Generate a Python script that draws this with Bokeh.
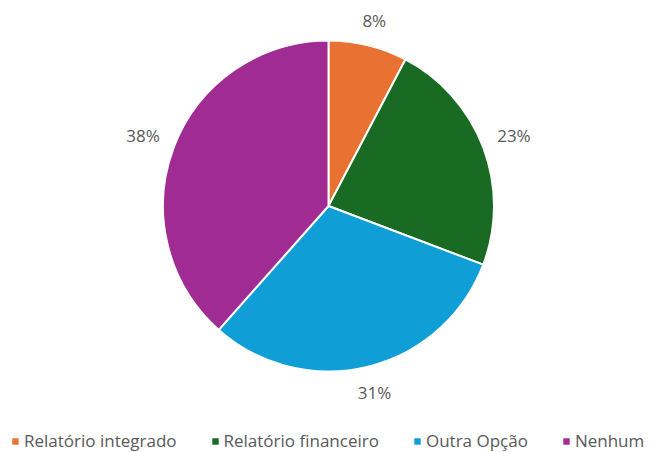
import math
from bokeh.plotting import figure
from bokeh.models import ColumnDataSource, Range1d, Legend, LegendItem
from bokeh.core.properties import value
from bokeh.embed import file_html
from bokeh.resources import INLINE

categories = ["Relatório integrado", "Relatório financeiro", "Outra Opção", "Nenhum"]
shares = [7.7, 23.1, 30.8, 38.5]
pct_labels = ["8%", "23%", "31%", "38%"]
colors = ["#E97132", "#196B24", "#0F9ED5", "#A02B93"]

W, H = 652, 452
p = figure(width=W, height=H, x_range=Range1d(0, W), y_range=Range1d(0, H),
           output_backend="svg", toolbar_location=None, min_border=0)
p.axis.visible = False
p.grid.visible = False
p.outline_line_color = None
p.background_fill_color = "white"

cx, cy, R = 328, H - 205.5, 165.5
LABEL_PX = 17
GAP = 15
total = sum(shares)
starts, ends, lx, ly = [], [], [], []
cum = 0.0
for s, lab in zip(shares, pct_labels):
    a0 = math.pi / 2 - 2 * math.pi * cum / total
    cum += s
    a1 = math.pi / 2 - 2 * math.pi * cum / total
    starts.append(a0)
    ends.append(a1)
    mid = (a0 + a1) / 2
    half_w = 0.62 * LABEL_PX * len(lab) / 2
    half_h = 0.5 * LABEL_PX
    d = R + GAP + abs(math.cos(mid)) * half_w + abs(math.sin(mid)) * half_h
    lx.append(cx + d * math.cos(mid))
    ly.append(cy + d * math.sin(mid))

src = ColumnDataSource(dict(cat=categories, start=starts, end=ends, color=colors,
                            lab=pct_labels, lx=lx, ly=ly))
p.wedge(x=cx, y=cy, radius=R, start_angle="start", end_angle="end", direction="clock",
        fill_color="color", line_color="white", line_width=2, source=src)
p.text(x="lx", y="ly", text="lab", source=src, text_align="center", text_baseline="middle",
       text_font=value("Open Sans"), text_font_size=f"{LABEL_PX}px", text_color="#595959")

items = []
for c, col in zip(categories, colors):
    r = p.quad(left=[-110], right=[-100], bottom=[-110], top=[-100],
               fill_color=col, line_color=None)
    items.append(LegendItem(label=c, renderers=[r]))
legend = Legend(items=items, orientation="horizontal", location=(11, 0),
                glyph_width=8, glyph_height=8, label_standoff=5, spacing=34,
                label_text_font="Open Sans", label_text_font_size="17px",
                label_text_color="#595959", border_line_color=None,
                background_fill_alpha=0, padding=0, margin=0, label_height=15)
p.add_layout(legend, "center")

open("out.html", "w").write(file_html(p, INLINE))
